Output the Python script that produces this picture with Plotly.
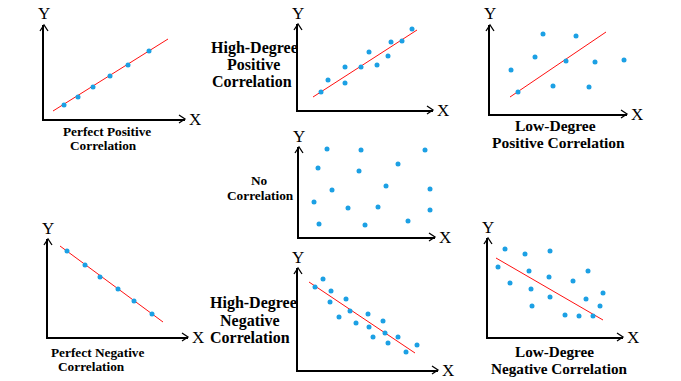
import plotly.graph_objects as go

W, H = 681, 381

# ---------------- data (values in each panel's own axis units) ----------------
perfect_pos_x = [20, 34, 49, 66, 84, 105]
perfect_pos_y = [14, 22, 32, 43, 54, 68]
perfect_pos_fit_x = [9, 124]
perfect_pos_fit_y = [8, 80]

high_pos_x = [23, 30, 47, 47, 63, 71, 79, 90, 93, 104, 114]
high_pos_y = [18, 30, 43, 27, 43, 58, 45, 54, 68, 69, 81]
high_pos_fit_x = [15, 119]
high_pos_fit_y = [13, 80]

low_pos_x = [21, 28, 45, 53, 63, 76, 86, 99, 103, 105, 134]
low_pos_y = [44, 22, 57, 80, 28, 53, 78, 27, 95, 52, 54]
low_pos_fit_x = [20, 116]
low_pos_fit_y = [17, 82]

no_corr_x = [28, 62, 126, 19, 99, 60, 33, 87, 131, 15, 49, 79, 131, 20, 66, 109]
no_corr_y = [88, 87, 87, 69, 73, 66, 47, 51, 48, 35, 29, 30, 27, 13, 12, 16]

perfect_neg_x = [19, 37, 52, 70, 86, 104]
perfect_neg_y = [86, 72, 60, 48, 36, 23]
perfect_neg_fit_x = [12, 115]
perfect_neg_fit_y = [91, 15]

high_neg_x = [17, 25, 33, 32, 48, 52, 41, 58, 70, 71, 75, 85, 87, 90, 100, 108, 119]
high_neg_y = [83, 91, 79, 68, 71, 59, 53, 47, 56, 43, 33, 49, 37, 27, 33, 18, 25]
high_neg_fit_x = [11, 117]
high_neg_fit_y = [88, 17]

low_neg_x = [17, 37, 62, 10, 41, 61, 100, 22, 43, 85, 62, 115, 98, 44, 112, 77, 91, 105]
low_neg_y = [88, 83, 86, 70, 66, 60, 66, 54, 48, 56, 40, 44, 38, 31, 31, 22, 21, 21]
low_neg_fit_x = [8, 115]
low_neg_fit_y = [79, 17]

# ---------------- layout of the panels (pixel geometry) ----------------
# origin (ox, oy), x-arrow tip, y-arrow tip
panels = [
    dict(o=(44, 119), xt=185, yt=25,
         pts=(perfect_pos_x, perfect_pos_y), fit=(perfect_pos_fit_x, perfect_pos_fit_y),
         title=[("Perfect Positive", 107, 131), ("Correlation", 103, 145)], fs=13.3),
    dict(o=(298, 110), xt=433, yt=24,
         pts=(high_pos_x, high_pos_y), fit=(high_pos_fit_x, high_pos_fit_y),
         title=[("High-Degree", 254, 48), ("Positive", 253, 64), ("Correlation", 252, 81)], fs=16),
    dict(o=(490, 114), xt=627, yt=25,
         pts=(low_pos_x, low_pos_y), fit=(low_pos_fit_x, low_pos_fit_y),
         title=[("Low-Degree", 555, 125), ("Positive Correlation", 558, 142)], fs=15.5),
    dict(o=(299, 237), xt=435, yt=147,
         pts=(no_corr_x, no_corr_y), fit=None,
         title=[("No", 259, 180), ("Correlation", 260, 195)], fs=13.3),
    dict(o=(48, 337), xt=188, yt=239,
         pts=(perfect_neg_x, perfect_neg_y), fit=(perfect_neg_fit_x, perfect_neg_fit_y),
         title=[("Perfect Negative", 97, 352), ("Correlation", 91, 366)], fs=13.3),
    dict(o=(298, 370), xt=438, yt=268,
         pts=(high_neg_x, high_neg_y), fit=(high_neg_fit_x, high_neg_fit_y),
         title=[("High-Degree", 253, 303), ("Negative", 250, 321), ("Correlation", 250, 337)], fs=16),
    dict(o=(488, 337), xt=623, yt=238,
         pts=(low_neg_x, low_neg_y), fit=(low_neg_fit_x, low_neg_fit_y),
         title=[("Low-Degree", 554, 351), ("Negative Correlation", 559, 368)], fs=15.2),
]

DOT = "#1ca0e4"
FIT = "#ff1010"
SERIF = "Liberation Serif, Times New Roman, serif"

fig = go.Figure()
layout = dict(
    width=W, height=H, margin=dict(l=0, r=0, t=0, b=0),
    paper_bgcolor="white", plot_bgcolor="rgba(0,0,0,0)",
    showlegend=False, shapes=[], annotations=[],
)

for i, p in enumerate(panels, start=1):
    ox, oy = p["o"]
    xw = p["xt"] - ox
    yh = oy - p["yt"]
    xa = "x" if i == 1 else f"x{i}"
    ya = "y" if i == 1 else f"y{i}"
    xkey = "xaxis" if i == 1 else f"xaxis{i}"
    ykey = "yaxis" if i == 1 else f"yaxis{i}"
    common = dict(showgrid=False, zeroline=False, showticklabels=False, ticks="",
                  showline=True, linecolor="black", linewidth=2, fixedrange=True)
    layout[xkey] = dict(domain=[ox / W, p["xt"] / W], range=[0, xw], anchor=ya, **common)
    layout[ykey] = dict(domain=[1 - oy / H, 1 - p["yt"] / H], range=[0, yh], anchor=xa, **common)

    if p["fit"] is not None:
        fig.add_trace(go.Scatter(x=p["fit"][0], y=p["fit"][1], mode="lines",
                                 line=dict(color=FIT, width=1), xaxis=xa, yaxis=ya,
                                 hoverinfo="skip", cliponaxis=False))
    fig.add_trace(go.Scatter(x=p["pts"][0], y=p["pts"][1], mode="markers",
                             marker=dict(color=DOT, size=5, symbol="circle"),
                             xaxis=xa, yaxis=ya, cliponaxis=False))

    # arrow heads
    layout["shapes"].append(dict(
        type="path", xref=f"{xa} domain", yref=f"{ya} domain",
        xsizemode="pixel", ysizemode="pixel", xanchor=0, yanchor=1,
        path="M -4,-6 L 0,0 L 4,-6", line=dict(color="black", width=1.3)))
    layout["shapes"].append(dict(
        type="path", xref=f"{xa} domain", yref=f"{ya} domain",
        xsizemode="pixel", ysizemode="pixel", xanchor=1, yanchor=0,
        path="M -6,4 L 0,0 L -6,-4", line=dict(color="black", width=1.3)))

    # axis letters
    layout["annotations"].append(dict(
        text="Y", xref=f"{xa} domain", yref=f"{ya} domain", x=0, y=1, yshift=11,
        showarrow=False, xanchor="center", yanchor="middle",
        font=dict(family=SERIF, size=17, color="black")))
    layout["annotations"].append(dict(
        text="X", xref=f"{xa} domain", yref=f"{ya} domain", x=1, y=0, xshift=10,
        showarrow=False, xanchor="center", yanchor="middle",
        font=dict(family=SERIF, size=17, color="black")))

    for txt, tx, ty in p["title"]:
        layout["annotations"].append(dict(
            text=f"<b>{txt}</b>", xref="paper", yref="paper", x=tx / W, y=1 - ty / H,
            showarrow=False, xanchor="center", yanchor="middle",
            font=dict(family=SERIF, size=p["fs"], color="black")))

fig.update_layout(**layout)
fig.write_html("out.html", config={"displayModeBar": False},
               post_script="document.body.style.margin='0px';document.body.style.padding='0px';")
